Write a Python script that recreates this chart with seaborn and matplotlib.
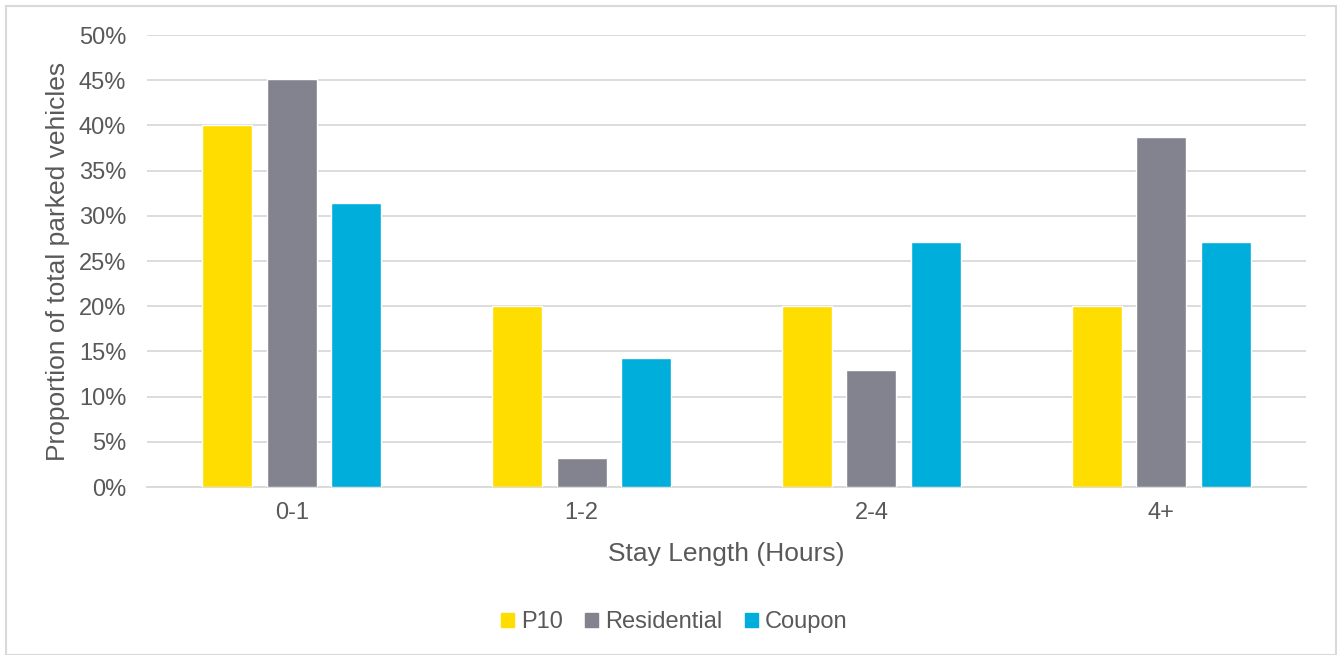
import matplotlib
matplotlib.use("Agg")
import matplotlib.pyplot as plt
import seaborn as sns
import pandas as pd
from matplotlib.patches import Rectangle
from matplotlib.ticker import FuncFormatter

categories = ["0-1", "1-2", "2-4", "4+"]
series = ["P10", "Residential", "Coupon"]
p10 = [40.0, 20.0, 20.0, 20.0]
residential = [45.1, 3.2, 12.9, 38.7]
coupon = [31.4, 14.3, 27.1, 27.1]
colors = ["#FFDD00", "#82838F", "#00AEDB"]

rows = []
for s, vals in zip(series, [p10, residential, coupon]):
    for c, v in zip(categories, vals):
        rows.append({"Stay": c, "Series": s, "Value": v})
df = pd.DataFrame(rows)

sns.set_theme(style="white")
plt.rcParams['font.family'] = ['Liberation Sans', 'DejaVu Sans']
text_color = "#595959"

fig = plt.figure(figsize=(13.42, 6.55), dpi=100)
ax = fig.add_axes([147/1342, 1-487/655, (1306-147)/1342, (487-35)/655])

sns.barplot(data=df, x="Stay", y="Value", hue="Series", palette=colors,
            width=0.667, gap=0.225, ax=ax, saturation=1, legend=False,
            order=categories, hue_order=series, zorder=3)

ax.set_ylim(0, 50)
ax.set_yticks(range(0, 51, 5))
ax.yaxis.set_major_formatter(FuncFormatter(lambda v, p: f"{int(v)}%"))
ax.grid(axis="y", color="#D9D9D9", linewidth=1.3, zorder=0)
ax.set_axisbelow(True)
for side in ["top", "right", "left"]:
    ax.spines[side].set_visible(False)
ax.spines["bottom"].set_color("#D9D9D9")
ax.spines["bottom"].set_linewidth(1.3)
ax.tick_params(axis="both", length=0, labelsize=17, colors=text_color)
ax.tick_params(axis="y", pad=15)
ax.tick_params(axis="x", pad=11)
ax.set_xlabel("Stay Length (Hours)", fontsize=19, color=text_color, labelpad=13)
ax.set_ylabel("Proportion of total parked vehicles", fontsize=19, color=text_color, labelpad=6)

handles = [Rectangle((0, 0), 1, 1, color=c) for c in colors]
fig.legend(handles, series, loc="center", bbox_to_anchor=(674/1342, 1-622/655),
           ncol=3, frameon=False, fontsize=17, labelcolor=text_color,
           handlelength=0.55, handleheight=0.55, handletextpad=0.3, columnspacing=0.95)

fig.add_artist(Rectangle((6/1342, 0), 1330/1342, 1-6/655, transform=fig.transFigure,
                         fill=False, edgecolor="#D9D9D9", linewidth=1.5))

fig.savefig("out.png", dpi=100, facecolor="white")
